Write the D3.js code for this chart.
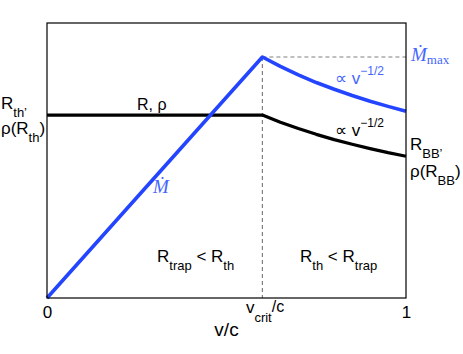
<!DOCTYPE html>
<html>
<head>
<meta charset="utf-8">
<script src="https://cdn.jsdelivr.net/npm/d3@7"></script>
<style>
    body { margin: 0; background: #fff; }
    svg { display: block; font-family: "Liberation Sans", Arial, sans-serif; }
</style>
</head>
<body>
<div id="chart"></div>
<script>
// values (v/c on x, arbitrary units on y)
const vVals = [0, 0.6, 0.65, 0.7, 0.75, 0.8, 0.85, 0.9, 0.95, 1.0];
const mdotVals = [0, 1, 0.961, 0.926, 0.894, 0.866, 0.840, 0.816, 0.795, 0.775];
const radiusVals = [0.759, 0.759, 0.729, 0.703, 0.679, 0.657, 0.638, 0.620, 0.603, 0.588];
const vCrit = 0.6;
const mdotMax = 1;
const xTicks = [0, vCrit, 1];
const yDomain = [0, 1.141];

const width = 463, height = 354;
const margin = {top: 23, right: 57, bottom: 56, left: 47};

const blue = '#2445ff';
const labelBlue = '#4466ff';
const sans = '"Liberation Sans", Arial, sans-serif';
const serif = '"Liberation Serif", "DejaVu Serif", serif';

const svg = d3.select('#chart')
    .append('svg')
    .attr('width', width)
    .attr('height', height);

const x = d3.scaleLinear()
    .domain([0, 1])
    .range([margin.left, width - margin.right]);

const y = d3.scaleLinear()
    .domain(yDomain)
    .range([height - margin.bottom, margin.top]);

// rich text helper: parts = [text, offset from baseline, font size, extra attrs]
function rich(sel, px, py, parts, opts = {}) {
    const size = opts.size || 16;
    const t = sel.append('text')
        .attr('x', px)
        .attr('y', py)
        .attr('font-family', opts.family || sans)
        .attr('font-size', size)
        .attr('fill', opts.color || '#000')
        .attr('text-anchor', opts.anchor || 'start');
    let shift = 0;
    parts.forEach(([txt, off = 0, fs = size, style]) => {
        const sp = t.append('tspan')
            .text(txt)
            .attr('font-size', fs)
            .attr('dy', off - shift);
        shift = off;
        if (style) Object.entries(style).forEach(([k, v]) => sp.attr(k, v));
    });
    return t;
}

// dashed guides
svg.append('line')
    .attr('x1', x(vCrit)).attr('x2', x(vCrit))
    .attr('y1', y(mdotMax)).attr('y2', y(0))
    .attr('stroke', '#808080').attr('stroke-width', 1.2)
    .attr('stroke-dasharray', '4,3');
svg.append('line')
    .attr('x1', x(vCrit)).attr('x2', x(1))
    .attr('y1', y(mdotMax)).attr('y2', y(mdotMax))
    .attr('stroke', '#808080').attr('stroke-width', 1.2)
    .attr('stroke-dasharray', '4,3');

// curves
const line = d3.line()
    .x((d, i) => x(vVals[i]))
    .y(d => y(d));

svg.append('path')
    .datum(radiusVals)
    .attr('d', line)
    .attr('fill', 'none')
    .attr('stroke', '#000')
    .attr('stroke-width', 3.2)
    .attr('stroke-linejoin', 'round');

svg.append('path')
    .datum(mdotVals)
    .attr('d', line)
    .attr('fill', 'none')
    .attr('stroke', blue)
    .attr('stroke-width', 3.6)
    .attr('stroke-linejoin', 'round');

// frame
svg.append('rect')
    .attr('x', x(0)).attr('y', y(yDomain[1]))
    .attr('width', x(1) - x(0))
    .attr('height', y(0) - y(yDomain[1]))
    .attr('fill', 'none')
    .attr('stroke', '#000')
    .attr('stroke-width', 1.2);

// x axis with custom labels
const xAxis = svg.append('g')
    .attr('transform', `translate(0,${y(0)})`)
    .call(d3.axisBottom(x).tickValues(xTicks).tickSize(0).tickFormat(''));
xAxis.select('.domain').remove();
xAxis.selectAll('.tick text').remove();
xAxis.selectAll('.tick').each(function (d) {
    const g = d3.select(this);
    if (d === vCrit) {
        rich(g, -17, 15, [['v'], ['crit', 9, 13], ['/c', -1, 16]], {size: 17});
    } else {
        rich(g, 0, 20, [[String(d)]], {size: 17, anchor: 'middle'});
    }
});

rich(svg, (x(0) + x(1)) / 2, 336, [['v/c']], {size: 19, anchor: 'middle'});

// annotations
rich(svg, 137, 110, [['R, ρ']], {size: 16});

rich(svg, 153, 193, [['Ṁ', 0, 19, {'font-style': 'italic'}]],
    {color: labelBlue, family: serif});

rich(svg, 411, 61, [['Ṁ', 0, 19, {'font-style': 'italic'}], ['max', 3, 13]],
    {color: labelBlue, family: serif});

rich(svg, 335, 84, [['∝ v', 0, 17], ['−1/2', -9, 12]], {color: labelBlue});
rich(svg, 335, 136, [['∝ v', 0, 17], ['−1/2', -9, 12]], {});

rich(svg, 1, 109, [['R'], ['th’', 8, 13]], {size: 17});
rich(svg, 1, 134, [['ρ(R'], ['th', 8, 13], [')', 0]], {size: 17});

rich(svg, 410, 150, [['R'], ['BB’', 8, 13]], {size: 17});
rich(svg, 410, 177, [['ρ(R'], ['BB', 8, 13], [')', 0]], {size: 17});

rich(svg, 157, 262, [['R'], ['trap', 8, 13], [' < R', 0], ['th', 8, 13]], {size: 17});
rich(svg, 300, 262, [['R'], ['th', 8, 13], [' < R', 0], ['trap', 8, 13]], {size: 17});
</script>
</body>
</html>
